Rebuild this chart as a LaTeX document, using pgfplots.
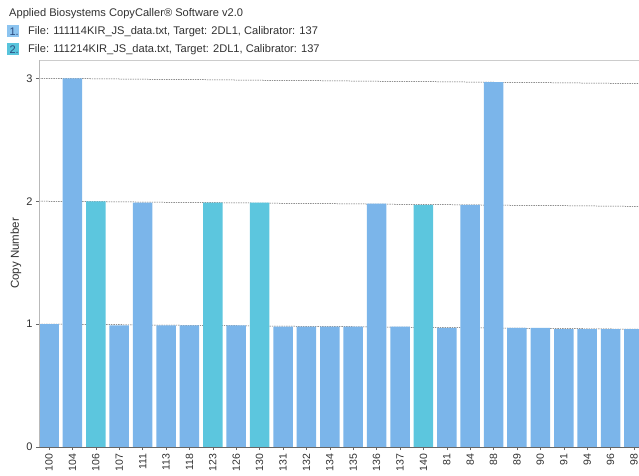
\documentclass[border=0pt]{standalone}
\usepackage{pgfplots}
\pgfplotsset{compat=1.18}
\usepackage{fontspec}
\setmainfont{Liberation Sans}

\definecolor{barblue}{HTML}{7BB5EA}
\definecolor{barteal}{HTML}{5CC6DE}
\definecolor{legblue}{HTML}{8CC4F0}
\definecolor{legteal}{HTML}{58C4DC}
\definecolor{legtext}{HTML}{2B4C80}
\definecolor{gridline}{HTML}{555555}
\definecolor{txt}{HTML}{303030}

\begin{document}
\begin{tikzpicture}[x=1pt,y=1pt]
\path[use as bounding box] (0,0) rectangle (639,475);
\clip (0,0) rectangle (639,475);

% header: software name and the two data files
\node[anchor=west, inner sep=0, text=txt, font=\fontsize{11.1}{13}\selectfont] at (9,461) {Applied Biosystems CopyCaller® Software v2.0};
\node[anchor=west, inner sep=0, fill=legblue, minimum width=12pt, minimum height=12pt, text=legtext, font=\fontsize{11}{13}\selectfont] at (7,443.5) {\,1.};
\node[anchor=west, inner sep=0, text=txt, font=\fontsize{11.1}{13}\selectfont] at (28,443.5) {File: 111114KIR\_JS\_data.txt, Target: 2DL1, Calibrator: 137};
\node[anchor=west, inner sep=0, fill=legteal, minimum width=12pt, minimum height=12pt, text=legtext, font=\fontsize{11}{13}\selectfont] at (7,425.5) {\,2.};
\node[anchor=west, inner sep=0, text=txt, font=\fontsize{11.1}{13}\selectfont] at (28,425.5) {File: 111214KIR\_JS\_data.txt, Target: 2DL1, Calibrator: 137};

\begin{axis}[
  at={(39pt,28pt)}, anchor=south west,
  scale only axis, width=609pt, height=387pt,
  xmin=-0.43, xmax=25.6, ymin=0, ymax=3.15,
  axis x line*=bottom, axis y line*=left,
  x axis line style={draw=gray!80!black, line width=0.6pt, -},
  y axis line style={draw=gray!55, line width=0.6pt, -},
  axis on top,
  tick align=outside, major tick length=3pt,
  tick style={draw=gray!80!black, line width=0.5pt},
  ytick={0,1,2,3},
  xtick={0,...,25},
  xticklabels={100,104,106,107,111,113,118,123,126,130,131,132,134,135,136,137,140,81,84,88,89,90,91,94,96,98},
  xticklabel style={rotate=90, anchor=east, font=\fontsize{10.5}{12}\selectfont, text=txt},
  yticklabel style={font=\fontsize{11}{12}\selectfont, text=txt},
  /pgf/number format/assume math mode=true,
  ylabel={Copy Number},
  every axis y label/.style={at={(rel axis cs:0,0.5)}, xshift=-23pt, rotate=90, anchor=center, font=\fontsize{11.5}{13}\selectfont, text=txt},
  clip=true,
]
% copy-number reference lines
\addplot[gridline, dash pattern=on 1.4pt off 1pt, line width=0.5pt] coordinates {(-0.43,1.001) (25.6,0.958)};
\addplot[gridline, dash pattern=on 1.4pt off 1pt, line width=0.5pt] coordinates {(-0.43,2.001) (25.6,1.958)};
\addplot[gridline, dash pattern=on 1.4pt off 1pt, line width=0.5pt] coordinates {(-0.43,3.001) (25.6,2.958)};
% file 1 samples
\addplot[ybar, bar width=19.5pt, bar shift=0pt, fill=barblue, draw=none] coordinates {
  (0,1.00) (1,3.00) (3,0.99) (4,1.99) (5,0.99) (6,0.99) (8,0.99)
  (10,0.98) (11,0.98) (12,0.98) (13,0.98) (14,1.98) (15,0.98)
  (17,0.97) (18,1.97) (19,2.97) (20,0.97) (21,0.97) (22,0.96)
  (23,0.96) (24,0.96) (25,0.96)};
% file 2 samples
\addplot[ybar, bar width=19.5pt, bar shift=0pt, fill=barteal, draw=none] coordinates {
  (2,2.00) (7,1.99) (9,1.99) (16,1.97)};
% top frame line
\draw[gray!40, line width=0.6pt] (rel axis cs:0,1) -- (rel axis cs:1,1);
\end{axis}
\end{tikzpicture}
\end{document}
